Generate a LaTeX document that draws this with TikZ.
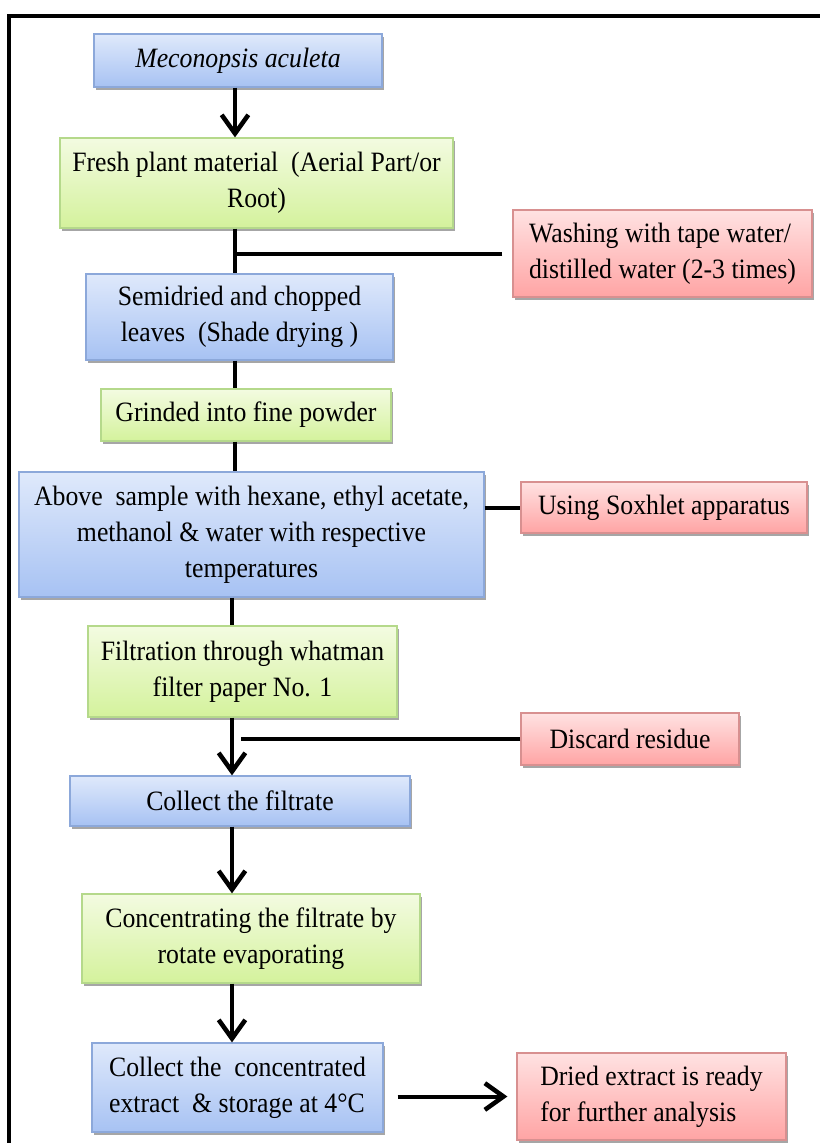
\documentclass[tikz,border=0pt]{standalone}
\usepackage{fontspec}
\setmainfont{Liberation Serif}[FakeStretch=0.92]
\usepackage{tikz}
\usetikzlibrary{arrows.meta}
\usetikzlibrary{shadows}
\usetikzlibrary{positioning}
\newdimen\px
\px=0.75pt
\definecolor{bluetop}{HTML}{DFE9FB}
\definecolor{bluebot}{HTML}{A7C2F3}
\definecolor{blueline}{HTML}{8CA8DA}
\definecolor{greentop}{HTML}{F3FBE1}
\definecolor{greenbot}{HTML}{D4F29C}
\definecolor{greenline}{HTML}{B5D98B}
\definecolor{redtop}{HTML}{FFE2E2}
\definecolor{redbot}{HTML}{FFA4A4}
\definecolor{redline}{HTML}{D89090}
\tikzset{stage/.style = {draw, line width=1.2\px, inner sep=0pt,
                         font=\fontsize{21}{27}\selectfont,
                         drop shadow={shadow xshift=2\px, shadow yshift=-3\px,
                                      opacity=0.35, fill=black}}}
\tikzset{bluebox/.style = {stage, draw=blueline, top color=bluetop,
                           bottom color=bluebot, align=center}}
\tikzset{greenbox/.style = {stage, draw=greenline, top color=greentop,
                            bottom color=greenbot, align=center}}
\tikzset{redbox/.style = {stage, draw=redline, top color=redtop,
                          bottom color=redbot, align=left}}
\tikzset{flow/.style = {line width=4\px},
         flowarrow/.style = {flow, -{Straight Barb[length=14pt, width=20pt, line width=3.4pt]}}}

\begin{document}
\begin{tikzpicture}[x=0.75pt, y=-0.75pt]
      \useasboundingbox (0, 0) rectangle (819, 1143);
      \draw [line width=3.2\px] (9, 1150) -- (9, 16) -- (825, 16);

      \coordinate (spine) at (235, 0);
      \coordinate (spinelow) at (232, 0);

      \node [bluebox, minimum width=288\px, minimum height=53\px] (meco) at (238, 60.5)
            {\itshape Meconopsis aculeta};
      \node [greenbox, minimum width=393\px, minimum height=90\px] (fresh) at (256.5, 183)
            {Fresh plant material\ \ (Aerial Part/or\\Root)};
      \node [redbox, minimum width=299\px, minimum height=87\px] (wash) at (662.5, 253.5)
            {Washing with tape water/\\distilled water (2-3 times)};
      \node [bluebox, minimum width=307\px, minimum height=86\px] (semi) at (239.5, 317)
            {Semidried and chopped\\leaves\ \ (Shade drying )};
      \node [greenbox, minimum width=290\px, minimum height=52\px] (grind) at (246, 415)
            {Grinded into fine powder};
      \node [bluebox, minimum width=465\px, minimum height=125\px] (sample) at (251.5, 534.5)
            {Above\ \ sample with hexane, ethyl acetate,\\methanol \& water with respective\\temperatures};
      \node [redbox, minimum width=286\px, minimum height=51\px] (soxhlet) at (664, 507.5)
            {Using Soxhlet apparatus};
      \node [greenbox, minimum width=309\px, minimum height=91\px] (filter) at (242.5, 671.5)
            {Filtration through whatman\\filter paper No. 1};
      \node [redbox, minimum width=218\px, minimum height=52\px] (residue) at (630, 739)
            {Discard residue};
      \node [bluebox, minimum width=340\px, minimum height=50\px] (filtrate) at (240, 801)
            {Collect the filtrate};
      \node [greenbox, minimum width=338\px, minimum height=89\px] (rotavap) at (251, 938.5)
            {Concentrating the filtrate by\\rotate evaporating};
      \node [bluebox, align=left, minimum width=291\px, minimum height=89\px] (store) at (237.5, 1087.5)
            {Collect the\ \ concentrated\\extract\ \ \& storage at 4°C};
      \node [redbox, minimum width=269\px, minimum height=87\px] (dried) at (651.5, 1096.5)
            {Dried extract is ready\\for further analysis};

      \draw [flowarrow] (meco.south -| spine) -- (fresh.north -| spine);
      \draw [flow] (fresh.south -| spine) -- (semi.north -| spine);
      \draw [flow, shorten <=10\px] (wash.west) -- (wash.west -| spine);
      \draw [flow] (semi.south -| spine) -- (grind.north -| spine);
      \draw [flow] (grind.south -| spine) -- (sample.north -| spine);
      \draw [flow] (sample.east |- soxhlet.west) -- (soxhlet.west);
      \draw [flow] (sample.south -| spinelow) -- (filter.north -| spinelow);
      \draw [flowarrow] (filter.south -| spinelow) -- (filtrate.north -| spinelow);
      \draw [flow, shorten >=9\px] (residue.west) -- (residue.west -| spinelow);
      \draw [flowarrow] (filtrate.south -| spinelow) -- (rotavap.north -| spinelow);
      \draw [flowarrow] (rotavap.south -| spinelow) -- (store.north -| spinelow);
      \draw [flowarrow, shorten <=14\px, shorten >=9\px] (store.east |- dried.west) -- (dried.west);
    \end{tikzpicture}
\end{document}
